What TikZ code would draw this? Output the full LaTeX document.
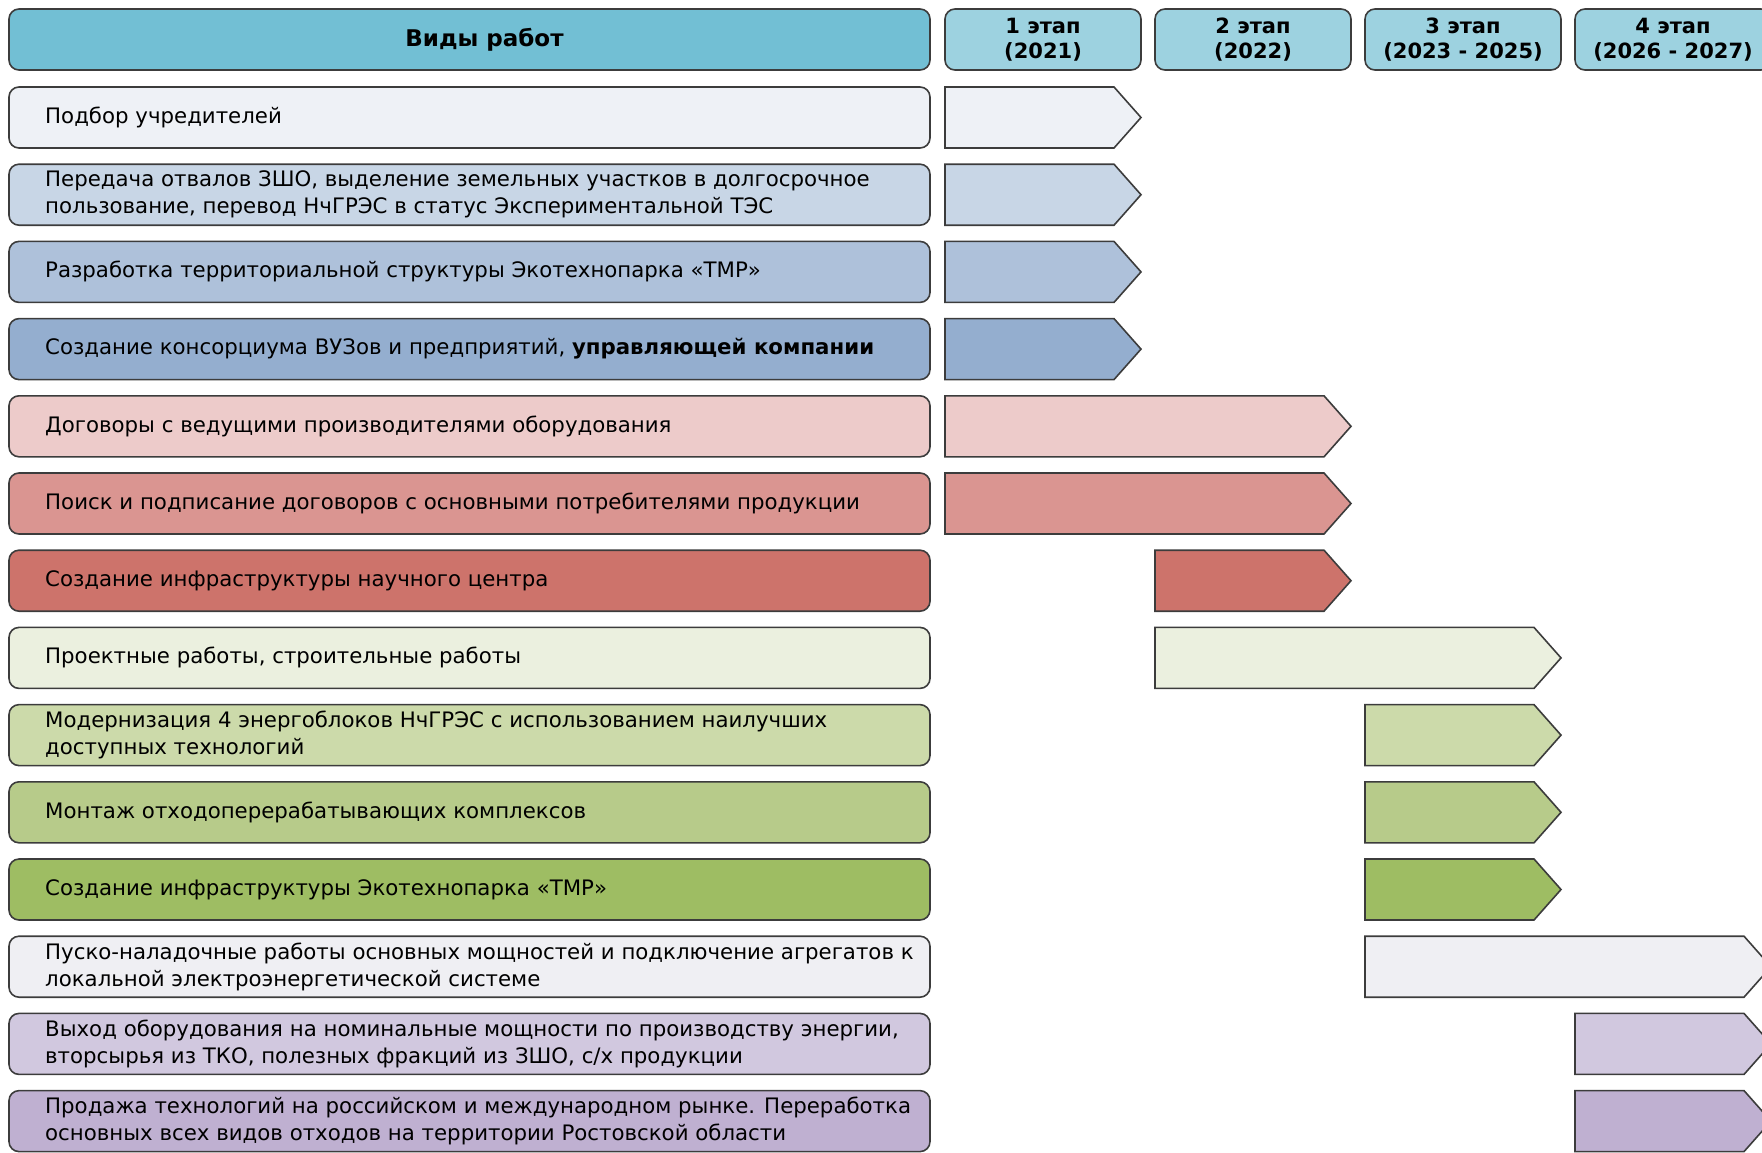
\documentclass[tikz,border=0pt]{standalone}
\usepackage{fontspec}
\setmainfont{DejaVu Sans}
\usepackage{tikz}
\usetikzlibrary{calc,positioning}

\definecolor{frame}{HTML}{3C3C3C}
\definecolor{headblue}{HTML}{72BFD4}
\definecolor{stageblue}{HTML}{9DD2E0}
\definecolor{colA}{HTML}{EEF1F6}
\definecolor{colB}{HTML}{C8D6E6}
\definecolor{colC}{HTML}{AEC1DA}
\definecolor{colD}{HTML}{94AECF}
\definecolor{colE}{HTML}{EDCBCA}
\definecolor{colF}{HTML}{DA9591}
\definecolor{colG}{HTML}{CD736B}
\definecolor{colH}{HTML}{EBF0DF}
\definecolor{colI}{HTML}{CCDAAA}
\definecolor{colJ}{HTML}{B7CB8A}
\definecolor{colK}{HTML}{9EBD63}
\definecolor{colL}{HTML}{EFEFF3}
\definecolor{colM}{HTML}{D1C8DF}
\definecolor{colN}{HTML}{BFB0D1}

\begin{document}
\begin{tikzpicture}[
        %We set the units (1 unit = 1 pixel) and define some styles
        x=1pt, y=-1pt,
        head/.style={draw=frame, line width=1.6pt, rounded corners=10pt, fill=headblue,
            minimum height=61pt, inner sep=0pt, outer sep=0pt, align=center,
            font=\bfseries\fontsize{21}{25}\selectfont},
        stage/.style={head, fill=stageblue, minimum width=196pt},
        workbox/.style={draw=frame, line width=1.6pt, rounded corners=10pt,
            minimum width=921pt, minimum height=61pt, inner sep=0pt, outer sep=0pt},
        worktext/.style={inner sep=0pt, align=left, font=\fontsize{21.3}{27}\selectfont},
        period/.style={draw=frame, line width=1.6pt, line join=miter}
    ]
    % Picture frame
    \clip (0,0) rectangle (1762,1152);

    % Arrow from stage #2 to stage #3 in row #1
    \newcommand\period[4]{%
        \draw[period, fill=#4] (#2.west |- #1.north)
            -- ($(#3.east |- #1.north)+(-27,0)$) -- (#3.east |- #1.east)
            -- ($(#3.east |- #1.south)+(-27,0)$) -- (#2.west |- #1.south) -- cycle;}

    % Header
    \node[head, minimum width=921pt, anchor=north west, font=\bfseries\fontsize{23}{25}\selectfont] (works) at (9,9) {\hspace*{30pt}Виды работ};
    \node[stage, right=15pt of works] (st1) {1 этап\\(2021)};
    \node[stage, right=14pt of st1] (st2) {2 этап\\(2022)};
    \node[stage, right=14pt of st2] (st3) {3 этап\\(2023 - 2025)};
    \node[stage, right=14pt of st3] (st4) {4 этап\\(2026 - 2027)};

    % Kinds of works
    \node[workbox, fill=colA, anchor=north west] (row1) at (9,87) {};
    \node[workbox, fill=colB, below=16.2pt of row1] (row2) {};
    \node[workbox, fill=colC, below=16.2pt of row2] (row3) {};
    \node[workbox, fill=colD, below=16.2pt of row3] (row4) {};
    \node[workbox, fill=colE, below=16.2pt of row4] (row5) {};
    \node[workbox, fill=colF, below=16.2pt of row5] (row6) {};
    \node[workbox, fill=colG, below=16.2pt of row6] (row7) {};
    \node[workbox, fill=colH, below=16.2pt of row7] (row8) {};
    \node[workbox, fill=colI, below=16.2pt of row8] (row9) {};
    \node[workbox, fill=colJ, below=16.2pt of row9] (row10) {};
    \node[workbox, fill=colK, below=16.2pt of row10] (row11) {};
    \node[workbox, fill=colL, below=16.2pt of row11] (row12) {};
    \node[workbox, fill=colM, below=16.2pt of row12] (row13) {};
    \node[workbox, fill=colN, below=16.2pt of row13] (row14) {};

    % Texts
    \node[worktext, right=36pt of row1.west] (txt1) {Подбор учредителей};
    \node[worktext, right=36pt of row2.west] (txt2) {Передача отвалов ЗШО, выделение земельных участков в долгосрочное\\пользование, перевод НчГРЭС в статус Экспериментальной ТЭС};
    \node[worktext, right=36pt of row3.west] (txt3) {Разработка территориальной структуры Экотехнопарка «ТМР»};
    \node[worktext, right=36pt of row4.west] (txt4) {Создание консорциума ВУЗов и предприятий, \textbf{управляющей компании}};
    \node[worktext, right=36pt of row5.west] (txt5) {Договоры с ведущими производителями оборудования};
    \node[worktext, right=36pt of row6.west] (txt6) {Поиск и подписание договоров с основными потребителями продукции};
    \node[worktext, right=36pt of row7.west] (txt7) {Создание инфраструктуры научного центра};
    \node[worktext, right=36pt of row8.west] (txt8) {Проектные работы, строительные работы};
    \node[worktext, right=36pt of row9.west] (txt9) {Модернизация 4 энергоблоков НчГРЭС с использованием наилучших\\доступных технологий};
    \node[worktext, right=36pt of row10.west] (txt10) {Монтаж отходоперерабатывающих комплексов};
    \node[worktext, right=36pt of row11.west] (txt11) {Создание инфраструктуры Экотехнопарка «ТМР»};
    \node[worktext, right=36pt of row12.west] (txt12) {Пуско-наладочные работы основных мощностей и подключение агрегатов к\\локальной электроэнергетической системе};
    \node[worktext, right=36pt of row13.west] (txt13) {Выход оборудования на номинальные мощности по производству энергии,\\вторсырья из ТКО, полезных фракций из ЗШО, с/х продукции};
    \node[worktext, right=36pt of row14.west] (txt14) {Продажа технологий на российском и международном рынке. Переработка\\основных всех видов отходов на территории Ростовской области};

    % Stages
    \period{row1}{st1}{st1}{colA}
    \period{row2}{st1}{st1}{colB}
    \period{row3}{st1}{st1}{colC}
    \period{row4}{st1}{st1}{colD}
    \period{row5}{st1}{st2}{colE}
    \period{row6}{st1}{st2}{colF}
    \period{row7}{st2}{st2}{colG}
    \period{row8}{st2}{st3}{colH}
    \period{row9}{st3}{st3}{colI}
    \period{row10}{st3}{st3}{colJ}
    \period{row11}{st3}{st3}{colK}
    \period{row12}{st3}{st4}{colL}
    \period{row13}{st4}{st4}{colM}
    \period{row14}{st4}{st4}{colN}
\end{tikzpicture}
\end{document}
